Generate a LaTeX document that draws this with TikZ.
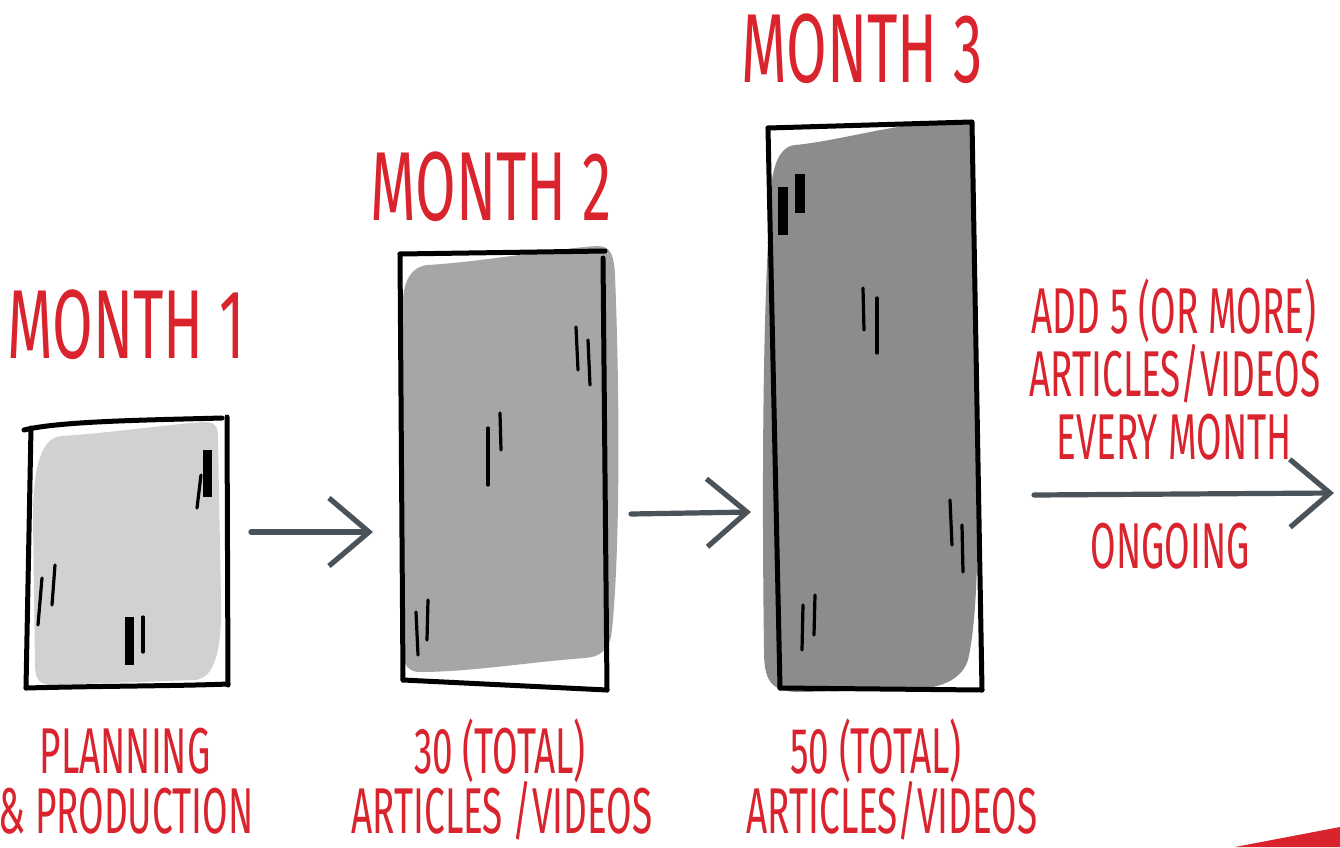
\documentclass[tikz,border=0pt]{standalone}
\usepackage{fontspec}
\newfontfamily\handbig{Fira Sans}[FakeStretch=0.6]
\newfontfamily\hand{Fira Sans}[FakeStretch=0.57]
\usetikzlibrary{arrows.meta}
\definecolor{redtxt}{HTML}{D9232D}
\definecolor{arrowgray}{HTML}{4A525A}
\definecolor{fillA}{HTML}{D0D1D1}
\definecolor{fillB}{HTML}{A6A6A6}
\definecolor{fillC}{HTML}{8C8C8C}
\tikzset{
  big/.style={text=redtxt, inner sep=0pt, anchor=base, text depth=0pt, font=\handbig\fontsize{49}{52}\selectfont},
  small/.style={text=redtxt, inner sep=0pt, anchor=base, text depth=0pt, font=\hand\fontsize{32.4}{36}\selectfont},
  outline/.style={draw=black, line width=2.5pt, line cap=round, line join=round},
  tick/.style={draw=black, line width=1.6pt, line cap=round},
  thicktick/.style={draw=black, line width=4.5pt},
  flow/.style={draw=arrowgray, line width=2.6pt, line cap=round,
    -{Straight Barb[length=20pt, width=34pt, line width=2.6pt]}}
}
\begin{document}
\begin{tikzpicture}[x=0.5pt, y=-0.5pt]
\useasboundingbox (0,0) rectangle (1340,847);
\fill[white] (0,0) rectangle (1340,847);

% ---------- Box 1 ----------
\fill[fillA] (62,436) .. controls (120,432) and (170,424) .. (205,422)
  .. controls (218,422) and (218,430) .. (218,440) -- (221,600)
  .. controls (222,650) and (215,678) .. (195,680) -- (55,685)
  .. controls (40,686) and (35,680) .. (35,665) -- (33,520)
  .. controls (33,470) and (40,437) .. (62,436) -- cycle;
\draw[outline] (24,430) .. controls (60,421) and (150,420) .. (222,418);
\draw[outline] (31,428) -- (26,688);
\draw[outline] (26,688) .. controls (100,686) and (180,686) .. (228,684);
\draw[outline] (227,417) -- (228,685);
\draw[thicktick] (207,450) -- (207,497);
\draw[tick] (201,475) -- (197,508);
\draw[tick] (42,578) -- (38,625);
\draw[tick] (55,565) -- (52,605);
\draw[thicktick] (129,617) -- (129,665);
\draw[tick] (143,617) -- (143,652);

% ---------- Box 2 ----------
\fill[fillB] (428,265) .. controls (480,262) and (560,248) .. (598,246)
  .. controls (612,246) and (614,258) .. (615,275)
  .. controls (620,400) and (620,550) .. (612,630)
  .. controls (610,650) and (600,657) .. (585,658)
  .. controls (530,662) and (470,672) .. (420,672)
  .. controls (405,672) and (402,660) .. (402,645) -- (403,300)
  .. controls (404,280) and (412,266) .. (428,265) -- cycle;
\draw[outline] (400,254) -- (605,251);
\draw[outline] (400,254) -- (403,680);
\draw[outline] (403,680) -- (607,690);
\draw[outline] (603,258) -- (607,690);
\draw[tick] (576,327) -- (578,370);
\draw[tick] (588,340) -- (590,385);
\draw[tick] (488,428) -- (488,485);
\draw[tick] (500,413) -- (501,450);
\draw[tick] (416,612) -- (418,655);
\draw[tick] (428,600) -- (427,640);

% ---------- Box 3 ----------
\fill[fillC] (795,145) .. controls (830,142) and (880,128) .. (920,124)
  -- (972,124) -- (976,300)
  .. controls (978,450) and (982,600) .. (968,660)
  .. controls (960,685) and (930,690) .. (900,690) -- (800,692)
  .. controls (770,692) and (764,680) .. (764,650)
  .. controls (762,500) and (762,300) .. (772,180)
  .. controls (775,160) and (782,146) .. (795,145) -- cycle;
\draw[outline] (768,128) -- (971,122);
\draw[outline] (768,128) -- (780,688);
\draw[outline] (780,688) -- (982,690);
\draw[outline] (972,122) -- (982,690);
\draw[draw=black, line width=5pt] (783,187) -- (783,235);
\draw[draw=black, line width=5pt] (800,174) -- (800,213);
\draw[tick] (863,288) -- (864,330);
\draw[tick] (877,298) -- (877,353);
\draw[tick] (950,500) -- (952,545);
\draw[tick] (962,525) -- (963,572);
\draw[tick] (803,605) -- (802,650);
\draw[tick] (815,595) -- (814,635);

% ---------- Arrows ----------
\coordinate (a1s) at (251,532);
\coordinate (a1e) at (373,532);
\coordinate (a2s) at (631,514);
\coordinate (a2e) at (751,512);
\coordinate (a3s) at (1034,495);
\coordinate (a3e) at (1334,493);
\draw[flow] (a1s) -- (a1e);
\draw[flow] (a2s) -- (a2e);
\draw[flow] (a3s) -- (a3e);

% ---------- Titles ----------
\node[big] (m1) at (126,358) {MONTH 1};
\node[big] (m2) at (491,220) {MONTH 2};
\node[big] (m3) at (862,82) {MONTH 3};

% ---------- Captions ----------
\node[small] (c1a) at (125,773) {PLANNING};
\node[small] (c1b) at (126,833) {\& PRODUCTION};
\node[small] (c2a) at (500,773) {30 (TOTAL)};
\node[small] (c2b) at (502,833) {ARTICLES /VIDEOS};
\node[small] (c3a) at (876,773) {50 (TOTAL)};
\node[small] (c3b) at (892,833) {ARTICLES/VIDEOS};
\node[small] (r1) at (1174,333) {ADD 5 (OR MORE)};
\node[small] (r2) at (1175,396) {ARTICLES/VIDEOS};
\node[small] (r3) at (1174,459) {EVERY MONTH};
\node[small] (r4) at (1170,568) {ONGOING};

% ---------- Corner triangle ----------
\fill[redtxt] (1235,847) -- (1340,827) -- (1340,847) -- cycle;
\end{tikzpicture}
\end{document}
